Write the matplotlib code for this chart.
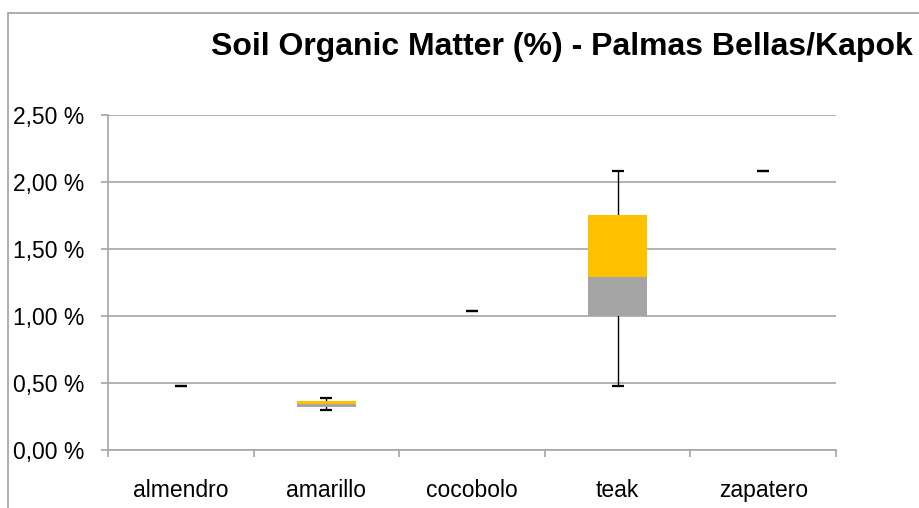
import numpy as np
import matplotlib.pyplot as plt
from matplotlib.patches import Rectangle

# box-plot stats per species (fraction of %)
species = ['almendro', 'amarillo', 'cocobolo', 'teak', 'zapatero']
q1 = [0.48, 0.32, 1.04, 1.00, 2.08]
median = [0.48, 0.34, 1.04, 1.29, 2.08]
q3 = [0.48, 0.365, 1.04, 1.75, 2.08]
minimum = [0.48, 0.30, 1.04, 0.48, 2.08]
maximum = [0.48, 0.385, 1.04, 2.08, 2.08]

yticks = [0.0, 0.5, 1.0, 1.5, 2.0, 2.5]
ytick_labels = ['0,00 %', '0,50 %', '1,00 %', '1,50 %', '2,00 %', '2,50 %']

plt.rcParams['font.family'] = ['Liberation Sans', 'DejaVu Sans']

q1 = np.array(q1)
median = np.array(median)
q3 = np.array(q3)
minimum = np.array(minimum)
maximum = np.array(maximum)
x = np.arange(len(species))

fig = plt.figure(figsize=(9.19, 5.08), dpi=100)
ax = fig.add_axes([108 / 919, 1 - 450 / 508, 728 / 919, 335 / 508])

# chart border (cropped on right and bottom)
fig.patches.append(Rectangle((8 / 919, -0.1), 1.2, 1 - 13 / 508 + 0.1,
                             transform=fig.transFigure, fill=False,
                             edgecolor='#a0a0a0', linewidth=1.2))

w = 0.4
ax.bar(x, median - q1, w, bottom=q1, color='#A5A5A5', zorder=3)
ax.bar(x, q3 - median, w, bottom=median, color='#FFC000', zorder=3)

# whiskers from min to max, box covers the middle
mid = (minimum + maximum) / 2
half = (maximum - minimum) / 2
ax.errorbar(x, mid, yerr=half, fmt='none', ecolor='black', elinewidth=1,
            capsize=4.3, capthick=1.6, zorder=2.5)

ax.set_xlim(-0.5, len(species) - 0.5)
ax.set_ylim(0, 2.5)
ax.set_yticks(yticks)
ax.set_yticklabels(ytick_labels)
ax.set_xticks(x)
ax.set_xticklabels(species)
ax.set_xticks(np.arange(-0.5, len(species)), minor=True)

ax.grid(axis='y', color='#A6A6A6', linewidth=1.2, zorder=0)
ax.set_axisbelow(True)
for s in ['top', 'right']:
    ax.spines[s].set_visible(False)
for s in ['left', 'bottom']:
    ax.spines[s].set_color('#A6A6A6')
    ax.spines[s].set_linewidth(1.2)

ax.tick_params(axis='y', length=5, color='#A6A6A6', width=1.2,
               labelsize=16.5, pad=12)
ax.tick_params(axis='x', which='major', length=0, labelsize=16.5, pad=21)
ax.tick_params(axis='x', which='minor', length=5, color='#A6A6A6', width=1.2)

fig.text(562 / 919, 1 - 47 / 508, 'Soil Organic Matter (%) - Palmas Bellas/Kapok',
         ha='center', va='center', fontsize=23, fontweight='bold')

fig.savefig('out.png', dpi=100)
